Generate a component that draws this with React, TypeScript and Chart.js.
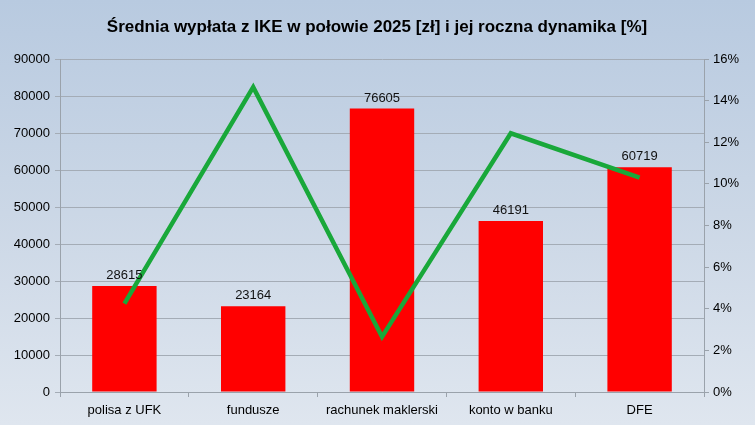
import React, { useEffect, useRef } from "react";
import Chart from "chart.js/auto";

const categories = ["polisa z UFK", "fundusze", "rachunek maklerski", "konto w banku", "DFE"];
const payouts = [28615, 23164, 76605, 46191, 60719];
const dynamics = [4.25, 14.65, 2.65, 12.43, 10.3];
const title = "Średnia wypłata z IKE w połowie 2025 [zł] i jej roczna dynamika [%]";

const FONT = "'Liberation Sans', Arial, sans-serif";

export default function App() {
  const ref = useRef<HTMLCanvasElement | null>(null);

  useEffect(() => {
    document.body.style.margin = "0";
    const canvas = ref.current;
    if (!canvas) return;

    const titlePlugin = {
      id: "customTitle",
      afterDraw(chart: any) {
        const ctx = chart.ctx;
        ctx.save();
        ctx.font = `bold 17px ${FONT}`;
        ctx.fillStyle = "#000";
        ctx.textAlign = "center";
        ctx.textBaseline = "middle";
        ctx.fillText(title, 377, 27);
        ctx.restore();
      },
    };

    const labelPlugin = {
      id: "barLabels",
      afterDatasetsDraw(chart: any) {
        const ctx = chart.ctx;
        const meta = chart.getDatasetMeta(0);
        ctx.save();
        ctx.font = `13px ${FONT}`;
        ctx.fillStyle = "#111";
        ctx.textAlign = "center";
        ctx.textBaseline = "bottom";
        meta.data.forEach((el: any, i: number) => {
          ctx.fillText(String(payouts[i]), el.x, el.y - 4);
        });
        ctx.restore();
      },
    };

    const tickFont = { family: FONT, size: 13 };

    const chart = new Chart(canvas, {
      type: "bar",
      data: {
        labels: categories,
        datasets: [
          {
            type: "bar",
            label: "wypłata",
            data: payouts,
            backgroundColor: "#ff0000",
            borderWidth: 0,
            barPercentage: 1,
            categoryPercentage: 0.5,
            yAxisID: "y",
            order: 2,
          },
          {
            type: "line",
            label: "dynamika",
            data: dynamics,
            borderColor: "#19a83a",
            borderWidth: 4.5,
            pointRadius: 0,
            tension: 0,
            fill: false,
            yAxisID: "y1",
            order: 1,
          } as any,
        ],
      },
      options: {
        animation: false,
        responsive: false,
        devicePixelRatio: 1,
        layout: { padding: { top: 59, left: 0, right: 0, bottom: 0 } },
        plugins: {
          legend: { display: false },
          title: { display: false },
          tooltip: { enabled: false },
        },
        scales: {
          x: {
            grid: {
              drawOnChartArea: false,
              drawTicks: true,
              tickLength: 5,
              color: "#9aa2ab",
              offset: true,
            },
            border: { display: true, color: "#9aa2ab" },
            ticks: { font: tickFont, color: "#000", padding: 6, maxRotation: 0 },
            afterFit(scale: any) {
              scale.height = 33;
            },
          },
          y: {
            position: "left",
            min: 0,
            max: 90000,
            ticks: {
              stepSize: 10000,
              font: tickFont,
              color: "#000",
              padding: 5,
              callback: (v: any) => String(v),
            },
            grid: { color: "#a4acb6", tickLength: 5, lineWidth: 1 },
            border: { display: true, color: "#9aa2ab" },
            afterFit(scale: any) {
              scale.width = 60;
            },
          },
          y1: {
            position: "right",
            min: 0,
            max: 16,
            ticks: {
              stepSize: 2,
              font: tickFont,
              color: "#000",
              padding: 4,
              callback: (v: any) => v + "%",
            },
            grid: { drawOnChartArea: false, color: "#9aa2ab", tickLength: 5 },
            border: { display: true, color: "#9aa2ab" },
            afterFit(scale: any) {
              scale.width = 51;
            },
          },
        },
      } as any,
      plugins: [titlePlugin, labelPlugin],
    });

    return () => chart.destroy();
  }, []);

  return (
    <div
      style={{
        width: 755,
        height: 425,
        background: "linear-gradient(to bottom, #b8cae0 0%, #cbd7e6 50%, #dfe6ef 100%)",
      }}
    >
      <canvas ref={ref} width={755} height={425} style={{ display: "block" }} />
    </div>
  );
}
